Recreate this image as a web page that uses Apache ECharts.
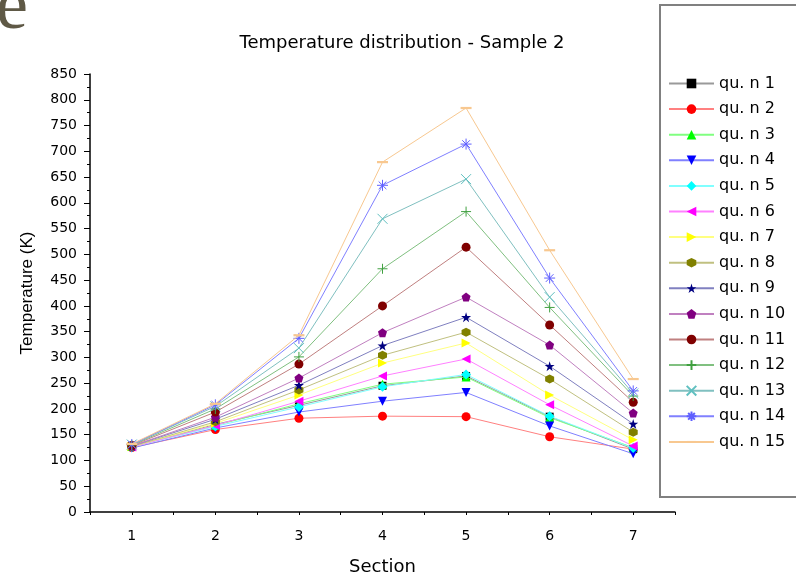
<!DOCTYPE html>
<html>
<head>
<meta charset="utf-8">
<script src="https://cdn.jsdelivr.net/npm/echarts@6/dist/echarts.min.js"></script>
<style>
  html, body { margin: 0; padding: 0; background: #fff; }
  #chart { width: 796px; height: 578px; }
</style>
</head>
<body>
<div id="chart"></div>
<script>
const sections = ['1', '2', '3', '4', '5', '6', '7'];
const seriesNames = ['qu. n 1', 'qu. n 2', 'qu. n 3', 'qu. n 4', 'qu. n 5', 'qu. n 6', 'qu. n 7', 'qu. n 8',
    'qu. n 9', 'qu. n 10', 'qu. n 11', 'qu. n 12', 'qu. n 13', 'qu. n 14', 'qu. n 15'];

const qu1 = [127, 170, 207, 245, 264, 185, 122];
const qu2 = [125, 160, 182, 186, 185, 146, 122];
const qu3 = [127, 168, 210, 248, 262, 183, 125];
const qu4 = [124, 163, 194, 215, 232, 167, 113];
const qu5 = [126, 166, 204, 243, 267, 186, 124];
const qu6 = [126, 168, 215, 264, 297, 208, 128];
const qu7 = [127, 172, 227, 289, 328, 227, 140];
const qu8 = [127, 175, 237, 304, 349, 258, 155];
const qu9 = [128, 180, 246, 323, 378, 283, 171];
const qu10 = [128, 184, 260, 348, 417, 324, 192];
const qu11 = [129, 194, 287, 400, 514, 363, 213];
const qu12 = [130, 200, 301, 472, 583, 397, 225];
const qu13 = [131, 205, 318, 569, 646, 417, 230];
const qu14 = [131, 208, 337, 634, 714, 454, 235];
const qu15 = [132, 210, 343, 679, 784, 508, 258];

const allData = [qu1, qu2, qu3, qu4, qu5, qu6, qu7, qu8, qu9, qu10, qu11, qu12, qu13, qu14, qu15];

// marker colour, line colour, symbol, size, outline-only
const looks = [
    ['#000000', '#9a9a9a', 'rect', 8, false],
    ['#ff0000', '#ff8080', 'circle', 9, false],
    ['#00ff00', '#80ff80', 'triangle', 9, false],
    ['#0000ff', '#8080ff', 'path://M0,0 L10,0 L5,10 Z', 9, false],
    ['#00ffff', '#80ffff', 'diamond', 10, false],
    ['#ff00ff', '#ff80ff', 'path://M10,0 L10,10 L0,5 Z', 9, false],
    ['#ffff00', '#ffff80', 'path://M0,0 L10,5 L0,10 Z', 9, false],
    ['#808000', '#c0c080', 'path://M5,0 L9.33,2.5 L9.33,7.5 L5,10 L0.67,7.5 L0.67,2.5 Z', 9, false],
    ['#000080', '#8080c0', 'path://M5,0 L6.18,3.82 L10,3.82 L6.91,6.18 L8.09,10 L5,7.64 L1.91,10 L3.09,6.18 L0,3.82 L3.82,3.82 Z', 10, false],
    ['#800080', '#c080c0', 'path://M5,0 L10,3.8 L8.1,10 L1.9,10 L0,3.8 Z', 9, false],
    ['#800000', '#c08080', 'circle', 9, false],
    ['#40a040', '#80c080', 'path://M5,0 L5,10 M0,5 L10,5', 10, true],
    ['#60c0c0', '#80c0c0', 'path://M0,0 L10,10 M10,0 L0,10', 10, true],
    ['#6060ff', '#8080ff', 'path://M5,0 L5,10 M0,5 L10,5 M1.5,1.5 L8.5,8.5 M8.5,1.5 L1.5,8.5', 11, true],
    ['#f8c890', '#f8c890', 'path://M0,0 L0,0 M10,10 L10,10 M0,4 L10,4 L10,6 L0,6 Z', 11, false]
];

const series = seriesNames.map((name, i) => {
    const [mark, line, symbol, size, outline] = looks[i];
    return {
        name: name,
        type: 'line',
        xAxisIndex: 0,
        data: allData[i],
        symbol: symbol,
        symbolSize: size,
        showAllSymbol: true,
        z: 2 + i,
        lineStyle: { color: line, width: 1 },
        itemStyle: outline
            ? { color: 'rgba(0,0,0,0)', borderColor: mark, borderWidth: 1 }
            : { color: mark, borderWidth: 0 },
        emphasis: { disabled: true }
    };
});

const flat = 'DejaVu Sans';

const chart = echarts.init(document.getElementById('chart'));
chart.setOption({
    animation: false,
    backgroundColor: '#fff',
    textStyle: { fontFamily: flat },
    title: {
        text: 'Temperature distribution - Sample 2',
        left: 397,
        textAlign: 'center',
        top: 29,
        textStyle: { fontSize: 18, fontWeight: 'normal', color: '#000', fontFamily: flat }
    },
    grid: { left: 90, top: 74, right: 121, bottom: 66, containLabel: false, outerBoundsMode: 'none' },
    xAxis: [
        {
            type: 'category',
            data: sections,
            boundaryGap: true,
            name: 'Section',
            nameLocation: 'middle',
            nameGap: 46,
            nameTextStyle: { fontSize: 18, color: '#000', fontFamily: flat },
            axisLine: { lineStyle: { color: '#000', width: 1.5 } },
            axisTick: { alignWithLabel: true, length: 6, lineStyle: { color: '#000' } },
            axisLabel: { fontSize: 14, color: '#000', margin: 17, fontFamily: flat },
            splitLine: { show: false }
        },
        {
            type: 'value',
            min: 0.5,
            max: 7.5,
            interval: 0.5,
            position: 'bottom',
            axisLine: { show: false },
            axisTick: { length: 3, lineStyle: { color: '#000' } },
            axisLabel: { show: false },
            splitLine: { show: false }
        }
    ],
    yAxis: {
        type: 'value',
        min: 0,
        max: 850,
        interval: 50,
        name: 'Temperature (K)',
        nameLocation: 'middle',
        nameGap: 54,
        nameTextStyle: { fontSize: 17, color: '#000', fontFamily: 'Liberation Sans' },
        axisLine: { show: true, lineStyle: { color: '#000', width: 1.5 } },
        axisTick: { show: true, length: 6, lineStyle: { color: '#000' } },
        minorTick: { show: true, splitNumber: 2, length: 3, lineStyle: { color: '#000' } },
        axisLabel: { fontSize: 14, color: '#000', margin: 13, fontFamily: flat },
        splitLine: { show: false }
    },
    legend: {
        orient: 'vertical',
        left: 663,
        top: 69,
        z: 60,
        itemWidth: 45,
        itemHeight: 12,
        itemGap: 6.6,
        data: seriesNames,
        textStyle: { fontSize: 16, color: '#000', lineHeight: 19, fontFamily: flat }
    },
    graphic: [
        {
            type: 'rect',
            z: 50,
            shape: { x: 660, y: 5, width: 150, height: 492 },
            style: { fill: '#fff', stroke: '#808080', lineWidth: 2 }
        },
        {
            type: 'text',
            z: 50,
            left: -4,
            top: -27,
            style: { text: 'e', font: '72px "Liberation Serif"', fill: '#5f5946' }
        }
    ],
    series: series
});
</script>
</body>
</html>
